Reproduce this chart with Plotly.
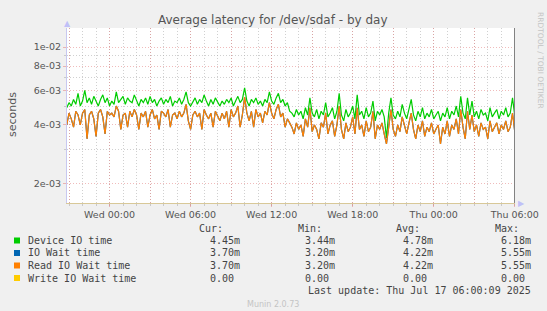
import pandas as pd
import plotly.graph_objects as go

# ---------------- data (values in milliseconds, 10-minute samples) ----------------
start_time = "2025-07-15 20:50"
step = "10min"

device_io_ms = [
    4.9, 5.2, 5.0, 5.4, 5.1, 5.8, 5.0, 5.3, 6.0, 5.2,
    5.5, 5.1, 5.6, 5.3, 5.0, 5.4, 5.7, 5.2, 5.5, 5.0,
    5.3, 5.1, 5.9, 5.2, 5.4, 5.6, 5.1, 5.5, 5.3, 5.2,
    5.7, 5.3, 5.0, 5.4, 5.2, 5.5, 5.1, 5.6, 5.2, 5.4,
    5.0, 5.3, 5.5, 5.1, 5.4, 5.2, 5.6, 5.0, 5.3, 5.2,
    5.5, 5.1, 5.4, 5.9, 5.2, 5.0, 5.3, 5.5, 5.1, 5.4,
    5.2, 5.7, 5.3, 5.0, 5.4, 5.1, 5.5, 5.2, 5.0, 5.3,
    5.1, 5.4, 5.2, 5.5, 5.0, 5.3, 5.6, 5.2, 5.4, 6.18,
    5.3, 5.0, 5.4, 5.2, 5.5, 5.1, 5.3, 5.0, 5.4, 5.2,
    5.9, 5.3, 5.1, 5.5, 5.8, 5.2, 5.4, 5.0, 5.2, 4.7,
    4.6, 4.4, 4.8, 4.5, 4.7, 4.3, 4.9, 4.5, 5.5, 4.6,
    4.4, 4.8, 4.3, 4.7, 4.5, 5.2, 4.4, 4.6, 4.9, 4.3,
    4.7, 5.8, 4.5, 4.2, 4.8, 4.4, 4.6, 5.0, 4.3, 5.7,
    4.5, 4.7, 4.3, 4.9, 4.4, 4.6, 5.3, 4.2, 4.7, 4.5,
    4.8, 4.4, 3.44, 4.6, 5.5, 4.5, 4.3, 4.7, 4.4, 5.1,
    4.6, 4.3, 4.8, 5.4, 4.5, 4.2, 4.7, 4.4, 4.9, 4.3,
    4.6, 4.4, 4.8, 4.3, 4.5, 4.7, 4.2, 4.6, 4.4, 4.9,
    4.3, 4.7, 4.5, 5.0, 4.4, 5.6, 4.6, 4.3, 5.5, 4.5,
    5.3, 4.4, 4.7, 4.3, 4.8, 4.5, 4.6, 4.2, 4.9, 4.4,
    4.6, 4.8, 4.3, 4.7, 4.5, 4.9, 4.4, 4.6, 5.5, 4.45,
]

read_io_wait_ms = [
    4.0, 4.6, 4.3, 3.9, 4.7, 4.5, 4.0, 4.6, 4.8, 3.4,
    4.5, 4.7, 4.3, 3.5, 4.6, 4.8, 4.4, 3.6, 4.7, 4.5,
    4.6, 4.4, 5.0, 4.7, 3.8, 4.5, 4.6, 3.9, 4.7, 4.4,
    4.8, 4.5, 3.8, 4.6, 4.4, 4.7, 3.9, 4.5, 4.8, 4.3,
    4.5, 3.8, 4.7, 4.6, 4.4, 4.8, 3.9, 4.5, 4.6, 4.3,
    4.7, 4.4, 4.6, 5.1, 4.2, 3.8, 4.5, 4.7, 4.4, 4.6,
    3.8, 4.8, 4.5, 4.3, 4.6, 3.9, 4.7, 4.4, 4.2, 4.6,
    4.3, 4.7, 3.9, 4.8, 4.4, 4.6, 5.0, 3.9, 4.5, 5.55,
    4.6, 4.2, 4.7, 3.9, 4.8, 4.4, 4.6, 4.1, 4.7, 4.5,
    5.2, 4.6, 4.3, 4.8, 5.1, 4.4, 4.6, 3.9, 4.3, 4.1,
    3.9, 3.6, 4.1, 3.8, 4.0, 3.5, 4.3, 3.9, 4.9, 3.7,
    4.0, 3.8, 3.4, 4.1, 3.9, 4.6, 3.6, 4.0, 4.2, 3.5,
    4.0, 5.0, 3.8, 3.4, 4.1, 3.7, 3.9, 4.4, 3.6, 4.9,
    3.8, 4.0, 3.5, 4.2, 3.7, 3.9, 4.7, 3.4, 4.0, 3.8,
    4.1, 3.6, 3.2, 3.9, 4.8, 3.8, 3.5, 4.0, 3.7, 4.4,
    3.9, 3.6, 4.1, 4.6, 3.8, 3.4, 4.0, 3.7, 4.2, 3.5,
    3.9, 3.7, 4.1, 3.6, 3.8, 4.0, 3.2, 3.9, 3.6, 4.2,
    3.5, 4.0, 3.8, 4.3, 3.6, 4.8, 3.9, 3.4, 4.7, 3.8,
    4.5, 3.7, 4.0, 3.5, 4.1, 3.8, 3.9, 3.4, 4.2, 3.7,
    3.9, 4.1, 3.6, 4.0, 3.8, 4.2, 3.7, 3.9, 4.6, 3.70,
]

# IO Wait time is identical to Read IO Wait time in this graph
io_wait_ms = list(read_io_wait_ms)

series_names = ["Device IO time", "IO Wait time", "Read IO Wait time", "Write IO Wait time"]
series_colors = ["#00cc00", "#0066b3", "#ff8000", "#ffcc00"]
cur_vals = ["4.45m", "3.70m", "3.70m", "0.00"]
min_vals = ["3.44m", "3.20m", "3.20m", "0.00"]
avg_vals = ["4.78m", "4.22m", "4.22m", "0.00"]
max_vals = ["6.18m", "5.55m", "5.55m", "0.00"]

y_tick_vals = [2e-3, 4e-3, 6e-3, 8e-3, 1e-2]
y_tick_text = ["2e-03", "4e-03", "6e-03", "8e-03", "1e-02"]
y_minor_vals = [3e-3, 5e-3, 7e-3, 9e-3]

x_tick_times = ["2025-07-15 21:00", "2025-07-16 00:00", "2025-07-16 03:00", "2025-07-16 06:00",
                "2025-07-16 09:00", "2025-07-16 12:00", "2025-07-16 15:00", "2025-07-16 18:00",
                "2025-07-16 21:00", "2025-07-17 00:00", "2025-07-17 03:00", "2025-07-17 06:00"]
x_tick_text = ["", "Wed 00:00", "", "Wed 06:00", "", "Wed 12:00", "", "Wed 18:00",
               "", "Thu 00:00", "", "Thu 06:00"]

title_text = "Average latency for /dev/sdaf - by day"
last_update = "Last update: Thu Jul 17 06:00:09 2025"

# ---------------- build ----------------
times = pd.date_range(start_time, periods=len(device_io_ms), freq=step)
to_s = lambda arr: [v / 1000.0 for v in arr]

W, H = 547, 311
L, R, T, B = 67, 515, 28, 203


def px(x):
    return (x - L) / (R - L)


def py(y):
    return (B - y) / (B - T)


fig = go.Figure()
fig.add_trace(go.Scatter(x=times, y=to_s(device_io_ms), mode="lines", name=series_names[0],
                         line=dict(color=series_colors[0], width=1.2)))
fig.add_trace(go.Scatter(x=times, y=to_s(io_wait_ms), mode="lines", name=series_names[1],
                         line=dict(color=series_colors[1], width=1.2)))
fig.add_trace(go.Scatter(x=times, y=to_s(read_io_wait_ms), mode="lines", name=series_names[2],
                         line=dict(color=series_colors[2], width=1.2)))

hour_ticks = pd.date_range("2025-07-15 21:00", "2025-07-17 06:00", freq="1h")

mono = "DejaVu Sans Mono"
sans = "DejaVu Sans"
major_grid = "rgba(225,120,120,0.5)"
minor_grid = "rgba(170,170,170,0.55)"

fig.update_layout(
    width=W, height=H,
    margin=dict(l=L, r=W - R, t=T, b=H - B, pad=0),
    paper_bgcolor="#f0f0f0",
    plot_bgcolor="#ffffff",
    showlegend=False,
    font=dict(family=sans, size=10, color="#555555"),
)

fig.update_xaxes(
    type="date",
    range=["2025-07-15 20:51", "2025-07-17 06:01"],
    tickmode="array", tickvals=x_tick_times, ticktext=x_tick_text,
    showgrid=True, gridcolor=major_grid, griddash="1px,2px", gridwidth=1,
    ticks="outside", ticklen=3, tickcolor=major_grid,
    tickfont=dict(family=sans, size=9.5, color="#555555"),
    minor=dict(tickmode="array", tickvals=list(hour_ticks), showgrid=True,
               gridcolor=minor_grid, griddash="1px,2px", gridwidth=1,
               ticks="outside", ticklen=2, tickcolor=minor_grid),
    showline=True, linecolor="#d8c898", linewidth=1,
    zeroline=False, automargin=False,
)

fig.update_yaxes(
    type="log",
    range=[-2.796, -1.903],
    tickmode="array", tickvals=y_tick_vals, ticktext=y_tick_text,
    showgrid=True, gridcolor=major_grid, griddash="1px,2px", gridwidth=1,
    ticks="outside", ticklen=3, tickcolor=major_grid,
    tickfont=dict(family=sans, size=9.5, color="#555555"),
    minor=dict(tickmode="array", tickvals=y_minor_vals, showgrid=True,
               gridcolor=minor_grid, griddash="1px,2px", gridwidth=1,
               ticks="outside", ticklen=2, tickcolor=minor_grid),
    showline=True, linecolor="#c8c8f0", linewidth=1,
    zeroline=False, automargin=False,
)

# "now" rule at the last sample
fig.add_shape(type="line", xref="x", yref="paper", x0=times[-1], x1=times[-1], y0=0, y1=1,
              line=dict(color="#808080", width=1.5))

ann = []


def text(x, y, s, size=10, color="#444444", family=mono, xanchor="left", yanchor="middle", angle=0):
    ann.append(dict(x=px(x), y=py(y), xref="paper", yref="paper", text=s, showarrow=False,
                    xanchor=xanchor, yanchor=yanchor, textangle=angle,
                    font=dict(family=family, size=size, color=color)))


text(273, 20, title_text, size=12, color="#555555", family=sans, xanchor="center")
text(12, 115, "seconds", size=11, color="#555555", family=sans, xanchor="center", angle=-90)
text(541, 60, "RRDTOOL / TOBI OETIKER", size=7.5, color="#c4c4c4", family=sans, xanchor="center", angle=90)
text(273, 304, "Munin 2.0.73", size=8, color="#c4c4c4", family=sans, xanchor="center")
text(67, 24, "▲", size=8, color="#c0c0f8", family=sans, xanchor="center")
text(521, 203, "▶", size=8, color="#c0c0f8", family=sans, xanchor="center")

headers = ["Cur:", "Min:", "Avg:", "Max:"]
header_right = [225, 324, 422, 521]
value_right = [242, 337, 435, 533]
for hx, hd in zip(header_right, headers):
    text(hx, 228.5, hd, xanchor="right")

row_y = [240.5, 253, 265.5, 278]
for i, name in enumerate(series_names):
    yy = row_y[i]
    fig.add_shape(type="rect", xref="paper", yref="paper",
                  x0=px(14), x1=px(20), y0=py(yy + 3), y1=py(yy - 3),
                  fillcolor=series_colors[i], line=dict(width=0))
    text(26, yy, name)
    for col, vals in enumerate([cur_vals, min_vals, avg_vals, max_vals]):
        s = vals[i]
        rx = value_right[col] - (0 if s.endswith("m") else 6)
        text(rx, yy, s, xanchor="right")

text(533, 290, last_update, xanchor="right")

fig.update_layout(annotations=ann)
fig.write_html("out.html")
